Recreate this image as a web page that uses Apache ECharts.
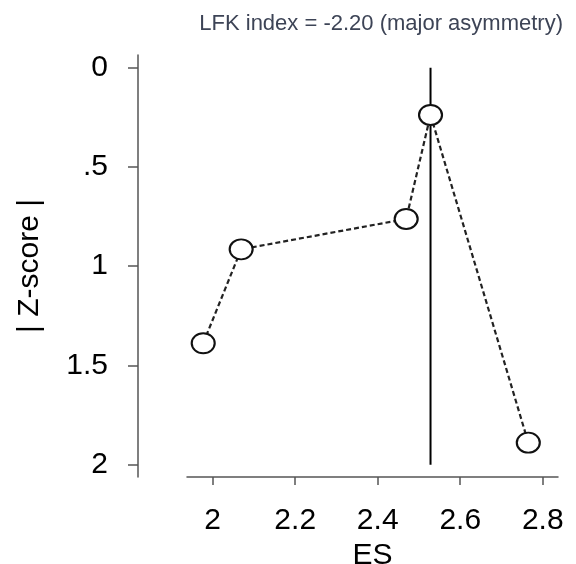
<!DOCTYPE html>
<html>
<head>
<meta charset="utf-8">
<script src="https://cdn.jsdelivr.net/npm/echarts@6/dist/echarts.min.js"></script>
<style>html,body{margin:0;padding:0;background:#fff;}#chart{width:576px;height:564px;}</style>
</head>
<body>
<div id="chart"></div>
<script>
const titleText = 'LFK index = -2.20 (major asymmetry)';
const esValues = [1.977, 2.069, 2.469, 2.528, 2.765];
const zScores = [1.388, 0.915, 0.762, 0.238, 1.889];
const xTicks = [2, 2.2, 2.4, 2.6, 2.8];
const yTicks = [0, 0.5, 1, 1.5, 2];
const yTickLabels = ['0', '.5', '1', '1.5', '2'];
const refLineX = 2.528;
const refLineY = [0, 2];

const points = esValues.map((x, i) => [x, zScores[i]]);
const refLine = refLineY.map(y => [refLineX, y]);
const font = 'Liberation Sans, Arial, sans-serif';

const chart = echarts.init(document.getElementById('chart'), null, {renderer: 'canvas'});
chart.setOption({
  animation: false,
  backgroundColor: '#fff',
  title: {
    text: titleText,
    right: 8,
    top: 8,
    textStyle: {fontFamily: font, fontSize: 22, fontWeight: 'normal', color: '#3d4456'}
  },
  grid: {left: 187, right: 18, top: 55, bottom: 87, containLabel: false, outerBoundsMode: 'none'},
  xAxis: {
    type: 'value',
    min: 1.9377,
    max: 2.837,
    name: 'ES',
    nameLocation: 'middle',
    nameGap: 57,
    nameTextStyle: {fontFamily: font, fontSize: 30, color: '#000'},
    splitLine: {show: false},
    axisLine: {show: true, onZero: false, lineStyle: {color: '#555', width: 1.5}},
    axisTick: {show: true, length: 8, customValues: xTicks, lineStyle: {color: '#555', width: 1.5}},
    axisLabel: {
      customValues: xTicks,
      margin: 29,
      fontFamily: font, fontSize: 30, color: '#000',
      formatter: v => String(Math.round(v * 10) / 10)
    }
  },
  yAxis: {
    type: 'value',
    inverse: true,
    min: -0.064,
    max: 2.062,
    offset: 49,
    name: '| Z-score |',
    nameLocation: 'middle',
    nameGap: 93,
    nameRotate: 90,
    nameTextStyle: {fontFamily: font, fontSize: 30, color: '#000'},
    splitLine: {show: false},
    axisLine: {show: true, onZero: false, lineStyle: {color: '#555', width: 1.5}},
    axisTick: {show: true, length: 10, customValues: yTicks, lineStyle: {color: '#555', width: 1.5}},
    axisLabel: {
      customValues: yTicks,
      margin: 30,
      fontFamily: font, fontSize: 30, color: '#000',
      formatter: v => {
        const i = yTicks.findIndex(t => Math.abs(t - v) < 1e-9);
        return i >= 0 ? yTickLabels[i] : '';
      }
    }
  },
  series: [
    {
      type: 'line',
      data: refLine,
      symbol: 'none',
      silent: true,
      z: 1,
      lineStyle: {color: '#000', width: 2}
    },
    {
      type: 'line',
      data: points,
      symbol: 'circle',
      symbolSize: [23, 20],
      z: 2,
      itemStyle: {color: '#fff', borderColor: '#111', borderWidth: 2},
      lineStyle: {color: '#222', width: 2.2, type: [5, 3]}
    }
  ]
});
</script>
</body>
</html>
